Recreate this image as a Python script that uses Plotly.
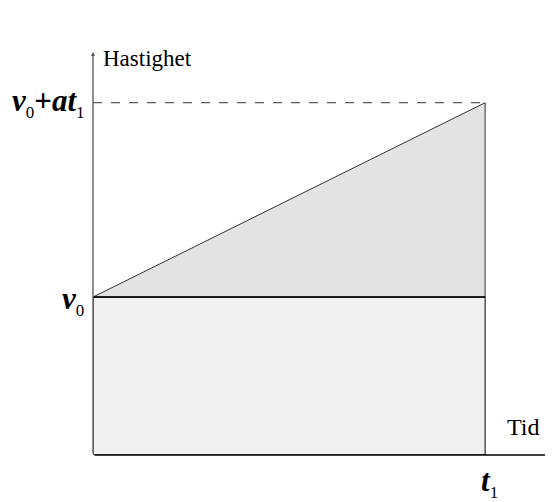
import plotly.graph_objects as go

# Data
t_values = [0.0, 1.0]          # time: 0 and t1
v0 = 1.0                       # initial velocity
v_end = 2.23                   # v0 + a*t1
x_label = "Tid"
y_label = "Hastighet"
SUB = '<sub><span style="font-size:17px">{}</span></sub>'
tick_t1 = "<b><i>t</i></b>" + SUB.format("1")
tick_v0 = "<b><i>v</i></b>" + SUB.format("0")
tick_vend = "<b><i>v</i></b>" + SUB.format("0") + "<b>+</b><b><i>at</i></b>" + SUB.format("1")

t0, t1 = t_values
X_MAX = 1.168
Y_MAX = 2.551
FONT = "Liberation Serif"

fig = go.Figure()

# rectangle v0 * t1
fig.add_trace(go.Scatter(
    x=[t0, t1, t1, t0, t0], y=[0, 0, v0, v0, 0],
    mode="lines", fill="toself", fillcolor="#f1f1f1",
    line=dict(color="black", width=1), hoverinfo="skip", showlegend=False))

# triangle
fig.add_trace(go.Scatter(
    x=[t0, t1, t1, t0], y=[v0, v_end, v0, v0],
    mode="lines", fill="toself", fillcolor="#e3e3e3",
    line=dict(color="#333333", width=1), hoverinfo="skip", showlegend=False))

# bottom edge of triangle / top of rectangle
fig.add_trace(go.Scatter(
    x=[t0, t1], y=[v0, v0], mode="lines",
    line=dict(color="black", width=1.3), hoverinfo="skip", showlegend=False))

# dashed line at v_end
fig.add_trace(go.Scatter(
    x=[t0, t1], y=[v_end, v_end], mode="lines",
    line=dict(color="#333333", width=1, dash="dash"),
    hoverinfo="skip", showlegend=False))

# axes lines with arrows
fig.add_annotation(x=X_MAX, y=0, ax=0, ay=0, xref="x", yref="y", axref="x", ayref="y",
                   showarrow=True, arrowhead=2, arrowsize=0.6, arrowwidth=1.3,
                   arrowcolor="black", text="")
fig.add_annotation(x=0, y=Y_MAX, ax=0, ay=0, xref="x", yref="y", axref="x", ayref="y",
                   showarrow=True, arrowhead=2, arrowsize=0.6, arrowwidth=1.3,
                   arrowcolor="#555555", text="")

# labels
fig.add_annotation(x=0.02, y=Y_MAX - 0.04, xref="x", yref="y", text=y_label,
                   showarrow=False, xanchor="left", yanchor="middle",
                   font=dict(family=FONT, size=23, color="black"))
fig.add_annotation(x=1.05, y=0.175, xref="x", yref="y", text=x_label,
                   showarrow=False, xanchor="left", yanchor="middle",
                   font=dict(family=FONT, size=24, color="black"))
fig.add_annotation(x=0, y=v_end, xref="x", yref="y", text=tick_vend, xshift=-6,
                   showarrow=False, xanchor="right", yanchor="middle",
                   font=dict(family=FONT, size=31, color="black"))
fig.add_annotation(x=0, y=v0, xref="x", yref="y", text=tick_v0, xshift=-7, yshift=-3,
                   showarrow=False, xanchor="right", yanchor="middle",
                   font=dict(family=FONT, size=31, color="black"))
fig.add_annotation(x=t1, y=0, xref="x", yref="y", text=tick_t1, xshift=4, yshift=-27,
                   showarrow=False, xanchor="center", yanchor="middle",
                   font=dict(family=FONT, size=31, color="black"))

fig.update_xaxes(range=[0, X_MAX], visible=False, fixedrange=True)
fig.update_yaxes(range=[0, Y_MAX], visible=False, fixedrange=True)
fig.update_layout(
    width=545, height=494,
    margin=dict(l=85, r=2, t=44, b=47),
    plot_bgcolor="white", paper_bgcolor="white",
    showlegend=False,
)

fig.write_html("out.html")
